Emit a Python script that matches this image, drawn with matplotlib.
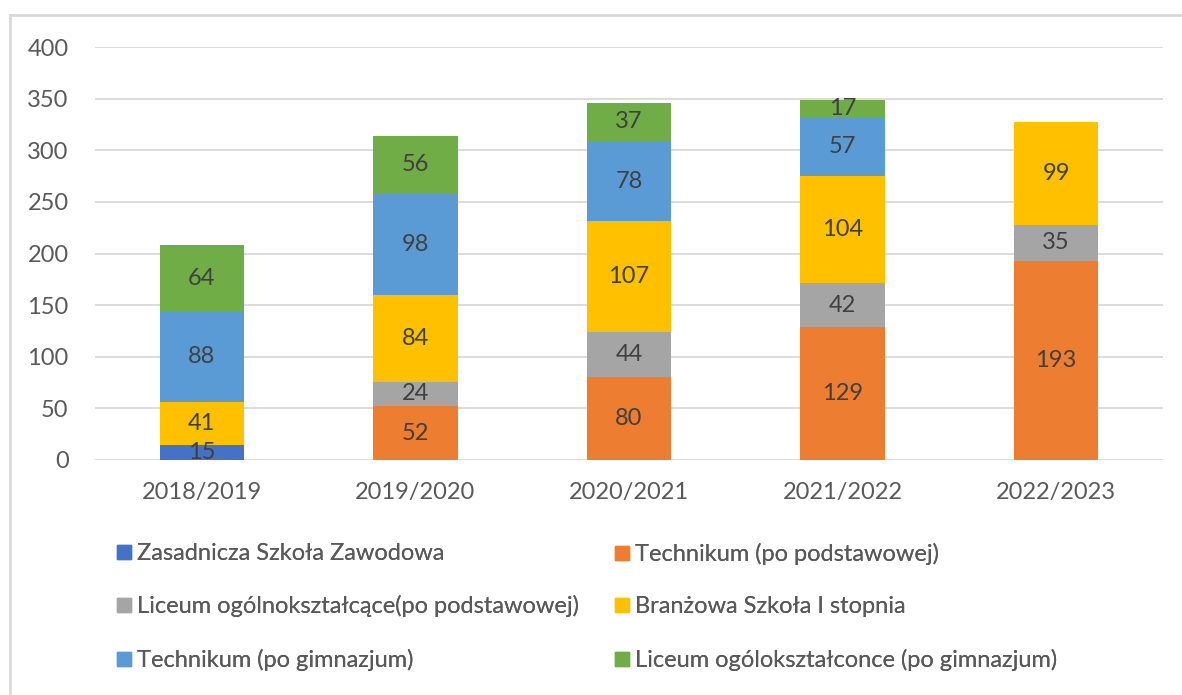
import numpy as np
import matplotlib.pyplot as plt
from matplotlib.lines import Line2D

# Data
years = ['2018/2019', '2019/2020', '2020/2021', '2021/2022', '2022/2023']
series_names = ['Zasadnicza Szkoła Zawodowa',
                'Technikum (po podstawowej)',
                'Liceum ogólnokształcące(po podstawowej)',
                'Branżowa Szkoła I stopnia',
                'Technikum (po gimnazjum)',
                'Liceum ogólokształconce (po gimnazjum)']
zsz = [15, 0, 0, 0, 0]
tech_podst = [0, 52, 80, 129, 193]
lo_podst = [0, 24, 44, 42, 35]
branzowa = [41, 84, 107, 104, 99]
tech_gimn = [88, 98, 78, 57, 0]
lo_gimn = [64, 56, 37, 17, 0]
colors = ['#4472C4', '#ED7D31', '#A5A5A5', '#FFC000', '#5B9BD5', '#70AD47']

plt.rcParams['font.family'] = ['Lato', 'DejaVu Sans']
FS = 17

fig = plt.figure(figsize=(11.82, 6.95), dpi=100)
ax = fig.add_axes([95 / 1182, 1 - 460 / 695, (1163 - 95) / 1182, 413 / 695])

x = np.arange(len(years))
bottom = np.zeros(len(years))
all_series = [zsz, tech_podst, lo_podst, branzowa, tech_gimn, lo_gimn]
for name, vals, col in zip(series_names, all_series, colors):
    vals = np.array(vals, dtype=float)
    ax.bar(x, vals, 0.395, bottom=bottom, color=col, zorder=3)
    for xi, v, b in zip(x, vals, bottom):
        if v > 0:
            ax.text(xi, b + v / 2, str(int(v)), ha='center', va='center',
                    fontsize=FS, color='#404040', zorder=4)
    bottom += vals

ax.set_xlim(-0.5, 4.5)
ax.set_ylim(0, 400)
ax.set_yticks(range(0, 401, 50))
ax.set_xticks(x)
ax.set_xticklabels(years)
ax.yaxis.grid(True, color='#D9D9D9', linewidth=1.3, zorder=0)
ax.tick_params(axis='both', length=0, labelsize=FS, labelcolor='#595959')
ax.tick_params(axis='y', pad=19)
ax.tick_params(axis='x', pad=16)
for s in ax.spines.values():
    s.set_visible(False)

handles = [Line2D([], [], marker='s', linestyle='', markersize=10,
                  color=c) for c in colors]
# two one-column legends, placed where the two columns sit
for idx, x0 in [([0, 2, 4], 112), ([1, 3, 5], 610)]:
    leg = fig.legend([handles[i] for i in idx], [series_names[i] for i in idx],
                     ncol=1, loc='upper left',
                     bbox_to_anchor=(x0 / 1182, 1 - 543 / 695),
                     frameon=False, fontsize=FS, labelcolor='#595959',
                     handletextpad=0.05, handlelength=1.0,
                     labelspacing=1.33, borderpad=0, borderaxespad=0)
    fig.add_artist(leg)

# partial frame around the chart (top and left only visible)
fig.add_artist(Line2D([10 / 1182, 10 / 1182], [0, 1 - 15 / 695],
                      color='#D9D9D9', linewidth=2, transform=fig.transFigure))
fig.add_artist(Line2D([10 / 1182, 1], [1 - 15 / 695, 1 - 15 / 695],
                      color='#D9D9D9', linewidth=2, transform=fig.transFigure))

fig.savefig('out.png', dpi=100)
